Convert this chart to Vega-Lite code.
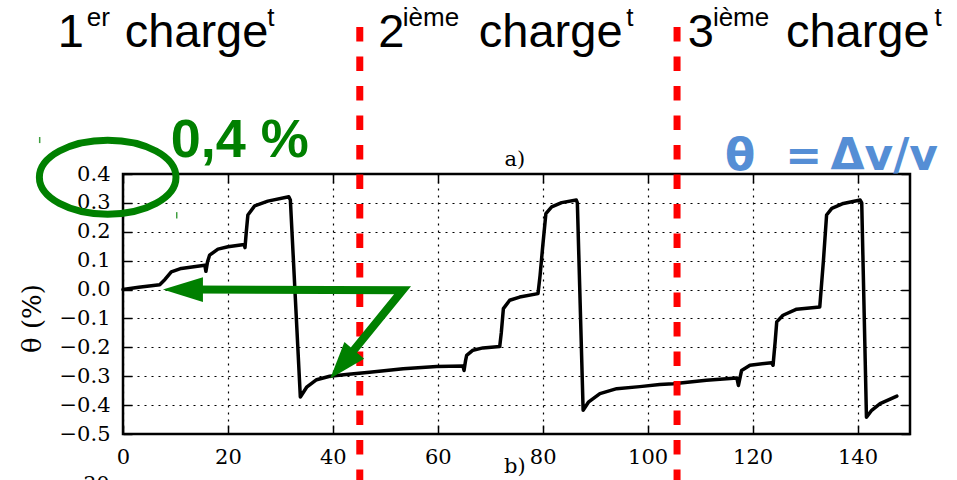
{
  "$schema": "https://vega.github.io/schema/vega-lite/v6.json",
  "width": 787,
  "height": 260,
  "autosize": {"type": "none"},
  "padding": {"left": 123, "top": 174, "right": 47, "bottom": 46},
  "background": "white",
  "config": {
    "view": {"stroke": "black", "strokeWidth": 2.5},
    "axis": {"gridColor": "black", "gridDash": [2, 5], "gridWidth": 1.2, "gridOpacity": 1, "tickColor": "black", "tickWidth": 1.5, "labelFlush": false}
  },
  "resolve": {"axis": {"x": "independent", "y": "independent"}},
  "datasets": {
    "curve": [
      {"x": 0, "y": 0.0}, {"x": 3, "y": 0.008}, {"x": 7.0, "y": 0.017}, {"x": 8.0, "y": 0.035},
      {"x": 9.2, "y": 0.061}, {"x": 11.1, "y": 0.073}, {"x": 13.5, "y": 0.079}, {"x": 15.6, "y": 0.084},
      {"x": 15.8, "y": 0.063}, {"x": 16.1, "y": 0.095}, {"x": 16.5, "y": 0.119}, {"x": 18.1, "y": 0.14},
      {"x": 20, "y": 0.148}, {"x": 23.1, "y": 0.156}, {"x": 23.25, "y": 0.145}, {"x": 23.5, "y": 0.2},
      {"x": 23.8, "y": 0.258}, {"x": 25.1, "y": 0.29}, {"x": 27.6, "y": 0.306}, {"x": 31.6, "y": 0.321},
      {"x": 31.9, "y": 0.31}, {"x": 33.8, "y": -0.372}, {"x": 35.0, "y": -0.338}, {"x": 36.9, "y": -0.312},
      {"x": 39.4, "y": -0.3}, {"x": 43, "y": -0.293}, {"x": 47.0, "y": -0.286}, {"x": 53.4, "y": -0.274},
      {"x": 59.8, "y": -0.266}, {"x": 64.8, "y": -0.265}, {"x": 65.0, "y": -0.28}, {"x": 65.3, "y": -0.245},
      {"x": 65.5, "y": -0.228}, {"x": 66.7, "y": -0.21}, {"x": 68.6, "y": -0.202}, {"x": 71.8, "y": -0.197},
      {"x": 72.1, "y": -0.15}, {"x": 72.5, "y": -0.066}, {"x": 73.7, "y": -0.037}, {"x": 75.6, "y": -0.026},
      {"x": 79.1, "y": -0.014}, {"x": 79.5, "y": 0.05}, {"x": 80.0, "y": 0.15}, {"x": 80.6, "y": 0.263},
      {"x": 81.7, "y": 0.286}, {"x": 83.6, "y": 0.301}, {"x": 86.4, "y": 0.31}, {"x": 86.6, "y": 0.3},
      {"x": 87.7, "y": -0.418}, {"x": 88.7, "y": -0.39}, {"x": 90.9, "y": -0.36}, {"x": 94.1, "y": -0.343},
      {"x": 98.5, "y": -0.336}, {"x": 102.3, "y": -0.329}, {"x": 104.9, "y": -0.326}, {"x": 111.2, "y": -0.314},
      {"x": 117.0, "y": -0.306}, {"x": 117.3, "y": -0.332}, {"x": 117.9, "y": -0.28}, {"x": 119.5, "y": -0.262},
      {"x": 123.6, "y": -0.253}, {"x": 123.9, "y": -0.262}, {"x": 124.3, "y": -0.18}, {"x": 124.6, "y": -0.112},
      {"x": 125.8, "y": -0.089}, {"x": 128.4, "y": -0.068}, {"x": 132.8, "y": -0.06}, {"x": 133.5, "y": 0.1},
      {"x": 134.1, "y": 0.258}, {"x": 135.1, "y": 0.281}, {"x": 137.3, "y": 0.298}, {"x": 140.5, "y": 0.31},
      {"x": 140.8, "y": 0.3}, {"x": 141.7, "y": -0.442}, {"x": 142.7, "y": -0.418}, {"x": 144.3, "y": -0.395},
      {"x": 147.5, "y": -0.369}
    ],
    "dividers": [{"x": 45.13, "top": 0.909, "bottom": -0.75}, {"x": 105.6, "top": 0.909, "bottom": -0.75}],
    "arrowShaft": [{"x": 13.5, "y": 0, "k": 1}, {"x": 53.3, "y": -0.002, "k": 2}, {"x": 41.79, "y": -0.259, "k": 3}],
    "arrowHeadH": [{"x": 11.42, "y": 0}],
    "arrowHeadD": [{"x": 41.79, "y": -0.259}],
    "ellipse": [{"x": -2.92, "y": 0.389}],
    "greenTicks": [{"x": -15.88, "y": 0.528, "y2": 0.507}, {"x": 10.24, "y": 0.268, "y2": 0.246}],
    "titleMain": [
      {"text": "1", "x": -12.45, "y": 0.84}, {"text": "charge", "x": 0.32, "y": 0.84},
      {"text": "2", "x": 48.66, "y": 0.84}, {"text": "charge", "x": 67.82, "y": 0.84},
      {"text": "3", "x": 107.66, "y": 0.84}, {"text": "charge", "x": 126.35, "y": 0.84}
    ],
    "titleSup": [
      {"text": "er", "x": -6.92, "y": 0.914}, {"text": "t", "x": 27.49, "y": 0.914},
      {"text": "ième", "x": 53.33, "y": 0.914}, {"text": "t", "x": 95.94, "y": 0.914},
      {"text": "ième", "x": 112.43, "y": 0.914}, {"text": "t", "x": 154.66, "y": 0.914}
    ],
    "panelTags": [{"text": "a)", "x": 74.68, "y": 0.4274}, {"text": "b)", "x": 74.68, "y": -0.6367}],
    "cutLabel": [{"text": "30", "x": -2.54, "y": -0.696}],
    "greenLabel": [{"text": "0,4 %", "x": 9.09, "y": 0.4586}],
    "blueLabel": [{"text": "θ", "x": 114.73, "y": 0.4135}, {"text": "=", "x": 126.2, "y": 0.4135}, {"text": "Δv/v", "x": 134.85, "y": 0.4135}]
  },
  "layer": [
    {
      "data": {"name": "curve"},
      "mark": {"type": "line", "color": "black", "strokeWidth": 3.5, "strokeJoin": "round", "strokeCap": "round"},
      "encoding": {
        "x": {"field": "x", "type": "quantitative", "scale": {"domain": [0, 150], "nice": false, "zero": false},
          "axis": {"orient": "bottom", "values": [0, 20, 40, 60, 80, 100, 120, 140], "format": "d", "grid": true, "domain": false, "tickSize": -9, "labelPadding": 21, "labelFont": "DejaVu Serif", "labelFontSize": 21, "labelColor": "black", "title": null}},
        "y": {"field": "y", "type": "quantitative", "scale": {"domain": [-0.5, 0.4], "nice": false, "zero": false},
          "axis": {"orient": "left", "values": [-0.5, -0.4, -0.3, -0.2, -0.1, 0, 0.1, 0.2, 0.3, 0.4], "format": ".1f", "grid": true, "domain": false, "tickSize": -9, "labelPadding": 22, "labelFont": "DejaVu Serif", "labelFontSize": 21, "labelColor": "black",
            "title": "θ (%)", "titleFont": "DejaVu Serif", "titleFontSize": 26, "titleFontWeight": "normal", "titleColor": "black", "titleX": -91, "titleY": 144, "titleAlign": "center", "titleBaseline": "middle", "titleAngle": -90}}
      }
    },
    {
      "data": {"name": "curve"},
      "mark": {"type": "line", "opacity": 0},
      "encoding": {
        "x": {"field": "x", "type": "quantitative", "scale": {"domain": [0, 150], "nice": false, "zero": false},
          "axis": {"orient": "top", "values": [0, 20, 40, 60, 80, 100, 120, 140], "labels": false, "grid": false, "domain": false, "tickSize": -9, "title": null}},
        "y": {"field": "y", "type": "quantitative", "scale": {"domain": [-0.5, 0.4], "nice": false, "zero": false},
          "axis": {"orient": "right", "values": [-0.5, -0.4, -0.3, -0.2, -0.1, 0, 0.1, 0.2, 0.3, 0.4], "labels": false, "grid": false, "domain": false, "tickSize": -9, "title": null}}
      }
    },
    {
      "data": {"name": "dividers"},
      "mark": {"type": "rule", "color": "#ff0000", "strokeWidth": 7, "strokeDash": [14.5, 15], "strokeCap": "butt"},
      "encoding": {
        "x": {"field": "x", "type": "quantitative", "scale": {"domain": [0, 150], "nice": false, "zero": false}, "axis": null},
        "y": {"field": "top", "type": "quantitative", "scale": {"domain": [-0.5, 0.4], "nice": false, "zero": false}, "axis": null},
        "y2": {"field": "bottom"}
      }
    },
    {
      "data": {"name": "greenTicks"},
      "mark": {"type": "rule", "color": "#3f9f3f", "strokeWidth": 1.5},
      "encoding": {
        "x": {"field": "x", "type": "quantitative", "scale": {"domain": [0, 150], "nice": false, "zero": false}, "axis": null},
        "y": {"field": "y", "type": "quantitative", "scale": {"domain": [-0.5, 0.4], "nice": false, "zero": false}, "axis": null},
        "y2": {"field": "y2"}
      }
    },
    {
      "data": {"name": "arrowShaft"},
      "mark": {"type": "line", "color": "#008000", "strokeWidth": 8, "strokeJoin": "miter", "strokeCap": "butt"},
      "encoding": {
        "x": {"field": "x", "type": "quantitative", "scale": {"domain": [0, 150], "nice": false, "zero": false}, "axis": null},
        "y": {"field": "y", "type": "quantitative", "scale": {"domain": [-0.5, 0.4], "nice": false, "zero": false}, "axis": null},
        "order": {"field": "k", "type": "quantitative"}
      }
    },
    {
      "data": {"name": "arrowHeadH"},
      "mark": {"type": "point", "shape": "M-1,0L1,-0.62L1,0.62Z", "size": 1600, "filled": true, "color": "#008000", "opacity": 1, "strokeWidth": 0},
      "encoding": {
        "x": {"field": "x", "type": "quantitative", "scale": {"domain": [0, 150], "nice": false, "zero": false}, "axis": null},
        "y": {"field": "y", "type": "quantitative", "scale": {"domain": [-0.5, 0.4], "nice": false, "zero": false}, "axis": null}
      }
    },
    {
      "data": {"name": "arrowHeadD"},
      "mark": {"type": "point", "shape": "M-1,0L1,-0.7L1,0.7Z", "size": 1369, "angle": -49.5, "filled": true, "color": "#008000", "opacity": 1, "strokeWidth": 0},
      "encoding": {
        "x": {"field": "x", "type": "quantitative", "scale": {"domain": [0, 150], "nice": false, "zero": false}, "axis": null},
        "y": {"field": "y", "type": "quantitative", "scale": {"domain": [-0.5, 0.4], "nice": false, "zero": false}, "axis": null}
      }
    },
    {
      "data": {"name": "ellipse"},
      "mark": {"type": "point", "shape": "M-1,0A1,0.542,0,1,0,1,0A1,0.542,0,1,0,-1,0Z", "size": 18660, "filled": false, "stroke": "#008000", "strokeWidth": 7, "opacity": 1},
      "encoding": {
        "x": {"field": "x", "type": "quantitative", "scale": {"domain": [0, 150], "nice": false, "zero": false}, "axis": null},
        "y": {"field": "y", "type": "quantitative", "scale": {"domain": [-0.5, 0.4], "nice": false, "zero": false}, "axis": null}
      }
    },
    {
      "data": {"name": "titleMain"},
      "mark": {"type": "text", "font": "Liberation Sans", "fontSize": 47, "color": "black", "align": "left", "baseline": "alphabetic"},
      "encoding": {
        "x": {"field": "x", "type": "quantitative", "scale": {"domain": [0, 150], "nice": false, "zero": false}, "axis": null},
        "y": {"field": "y", "type": "quantitative", "scale": {"domain": [-0.5, 0.4], "nice": false, "zero": false}, "axis": null},
        "text": {"field": "text"}
      }
    },
    {
      "data": {"name": "titleSup"},
      "mark": {"type": "text", "font": "Liberation Sans", "fontSize": 26, "color": "black", "align": "left", "baseline": "alphabetic"},
      "encoding": {
        "x": {"field": "x", "type": "quantitative", "scale": {"domain": [0, 150], "nice": false, "zero": false}, "axis": null},
        "y": {"field": "y", "type": "quantitative", "scale": {"domain": [-0.5, 0.4], "nice": false, "zero": false}, "axis": null},
        "text": {"field": "text"}
      }
    },
    {
      "data": {"name": "panelTags"},
      "mark": {"type": "text", "font": "DejaVu Serif", "fontSize": 21, "color": "black", "align": "center", "baseline": "alphabetic"},
      "encoding": {
        "x": {"field": "x", "type": "quantitative", "scale": {"domain": [0, 150], "nice": false, "zero": false}, "axis": null},
        "y": {"field": "y", "type": "quantitative", "scale": {"domain": [-0.5, 0.4], "nice": false, "zero": false}, "axis": null},
        "text": {"field": "text"}
      }
    },
    {
      "data": {"name": "cutLabel"},
      "mark": {"type": "text", "font": "DejaVu Serif", "fontSize": 21, "color": "black", "align": "right", "baseline": "alphabetic"},
      "encoding": {
        "x": {"field": "x", "type": "quantitative", "scale": {"domain": [0, 150], "nice": false, "zero": false}, "axis": null},
        "y": {"field": "y", "type": "quantitative", "scale": {"domain": [-0.5, 0.4], "nice": false, "zero": false}, "axis": null},
        "text": {"field": "text"}
      }
    },
    {
      "data": {"name": "greenLabel"},
      "mark": {"type": "text", "font": "Liberation Sans", "fontSize": 54, "fontWeight": "bold", "color": "#008000", "align": "left", "baseline": "alphabetic"},
      "encoding": {
        "x": {"field": "x", "type": "quantitative", "scale": {"domain": [0, 150], "nice": false, "zero": false}, "axis": null},
        "y": {"field": "y", "type": "quantitative", "scale": {"domain": [-0.5, 0.4], "nice": false, "zero": false}, "axis": null},
        "text": {"field": "text"}
      }
    },
    {
      "data": {"name": "blueLabel"},
      "mark": {"type": "text", "font": "DejaVu Sans", "fontSize": 44, "fontWeight": "bold", "color": "#558ED5", "align": "left", "baseline": "alphabetic"},
      "encoding": {
        "x": {"field": "x", "type": "quantitative", "scale": {"domain": [0, 150], "nice": false, "zero": false}, "axis": null},
        "y": {"field": "y", "type": "quantitative", "scale": {"domain": [-0.5, 0.4], "nice": false, "zero": false}, "axis": null},
        "text": {"field": "text"}
      }
    }
  ]
}
